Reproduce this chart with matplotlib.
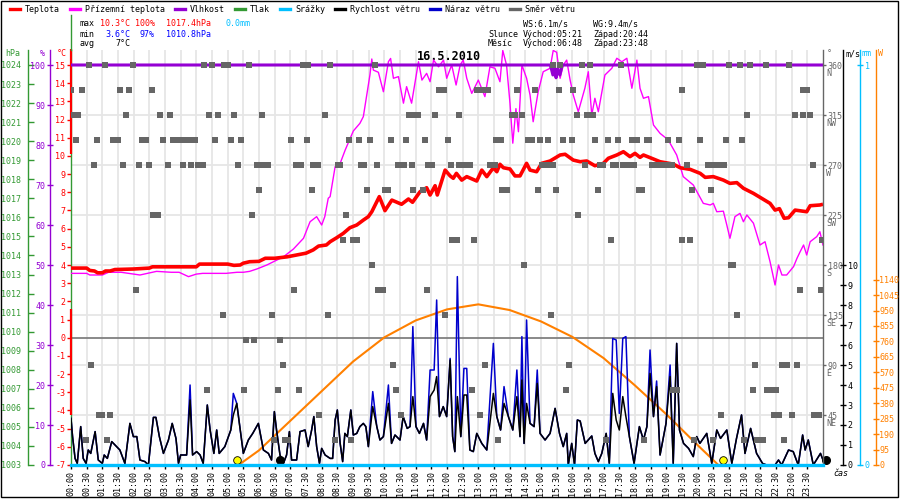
import numpy as np
import matplotlib
matplotlib.use("Agg")
import matplotlib.pyplot as plt
from matplotlib.lines import Line2D
from matplotlib.patches import Rectangle

# =========================
# Data (16.5.2010, time in hours)
# =========================
temp_t = [0.0, 0.5, 0.6, 0.75, 0.85, 1.0, 1.1, 1.25, 1.4, 2.0,
          2.5, 2.6, 3.0, 3.5, 4.0, 4.1, 4.5, 5.0, 5.2, 5.4,
          5.5, 5.7, 6.0, 6.2, 6.5, 6.9, 7.2, 7.5, 7.73, 7.9,
          8.15, 8.27, 8.48, 8.69, 8.9, 9.12, 9.33, 9.49, 9.6, 9.84,
          10.02, 10.24, 10.55, 10.77, 10.9, 11.14, 11.35, 11.46, 11.62, 11.69,
          11.94, 12.1, 12.2, 12.3, 12.47, 12.63, 12.95, 13.11, 13.27, 13.48,
          13.59, 13.69, 13.8, 14.01, 14.17, 14.33, 14.54, 14.65, 14.86, 15.02,
          15.29, 15.61, 15.77, 16.03, 16.25, 16.46, 16.72, 16.99, 17.15, 17.42,
          17.63, 17.84, 18.0, 18.16, 18.27, 18.53, 18.8, 19.22, 19.44, 19.76,
          20.08, 20.24, 20.5, 20.82, 21.03, 21.25, 21.46, 21.78, 22.04, 22.31,
          22.47, 22.61, 22.76, 22.9, 23.11, 23.48, 23.59, 23.9, 24.0]
temp_v = [3.83, 3.83, 3.7, 3.67, 3.57, 3.57, 3.67, 3.67, 3.75, 3.78,
          3.83, 3.9, 3.9, 3.9, 3.9, 4.05, 4.05, 4.05, 3.98, 4.0,
          4.1, 4.18, 4.2, 4.37, 4.37, 4.45, 4.55, 4.65, 4.83, 5.04,
          5.1, 5.28, 5.5, 5.74, 6.05, 6.2, 6.47, 6.66, 6.93, 7.76,
          6.99, 7.57, 7.34, 7.63, 7.45, 8.03, 8.25, 7.85, 8.36, 7.85,
          9.22, 8.9, 8.77, 9.04, 8.67, 8.86, 8.62, 9.22, 8.86, 9.35,
          9.13, 9.54, 9.35, 9.28, 8.9, 8.9, 9.59, 9.22, 9.13, 9.59,
          9.72, 10.05, 10.09, 9.77, 9.68, 9.72, 9.46, 9.59, 9.87, 10.05,
          10.23, 9.96, 10.14, 9.92, 10.05, 9.87, 9.68, 9.55, 9.35, 9.26,
          9.04, 8.82, 8.86, 8.67, 8.49, 8.53, 8.22, 7.94, 7.67, 7.39,
          7.02, 7.1, 6.57, 6.6, 7.02, 6.93, 7.26, 7.3, 7.34]

ground_t = [0.0, 0.5, 0.6, 1.0, 1.2, 1.6, 2.2, 2.73, 3.2, 3.45,
            3.75, 4.0, 4.2, 4.95, 5.3, 5.5, 5.7, 5.93, 6.25, 6.46,
            6.78, 7.1, 7.42, 7.63, 7.84, 8.0, 8.1, 8.21, 8.27, 8.43,
            8.59, 8.75, 9.01, 9.22, 9.33, 9.44, 9.54, 9.6, 9.65, 9.81,
            9.97, 10.13, 10.2, 10.29, 10.45, 10.61, 10.71, 10.87, 11.09, 11.2,
            11.35, 11.46, 11.57, 11.73, 11.89, 11.99, 12.15, 12.29, 12.42, 12.52,
            12.63, 12.79, 13.0, 13.21, 13.37, 13.53, 13.69, 13.78, 13.9, 14.01,
            14.1, 14.2, 14.28, 14.39, 14.54, 14.65, 14.75, 14.91, 15.07, 15.29,
            15.39, 15.5, 15.61, 15.71, 15.82, 15.93, 16.03, 16.19, 16.25, 16.4,
            16.51, 16.62, 16.72, 16.83, 17.04, 17.26, 17.42, 17.58, 17.74, 17.9,
            18.06, 18.16, 18.27, 18.43, 18.59, 18.8, 19.06, 19.33, 19.54, 19.86,
            20.18, 20.4, 20.5, 20.61, 20.82, 20.93, 21.03, 21.19, 21.35, 21.46,
            21.57, 21.78, 21.99, 22.15, 22.31, 22.47, 22.58, 22.69, 22.84, 23.06,
            23.17, 23.27, 23.38, 23.48, 23.59, 23.8, 23.9, 24.0]
ground_v = [3.54, 3.54, 3.45, 3.45, 3.6, 3.6, 3.45, 3.65, 3.6, 3.6,
            3.36, 3.5, 3.54, 3.54, 3.6, 3.6, 3.65, 3.78, 4.0, 4.18,
            4.45, 4.88, 5.47, 6.38, 6.66, 6.2, 6.66, 7.67, 7.76, 9.41,
            9.59, 10.32, 11.37, 11.79, 12.16, 13.35, 14.45, 15.33, 14.72, 14.6,
            13.53, 15.18, 15.36, 14.27, 14.36, 12.9, 13.81, 12.9, 15.18, 14.17,
            14.54, 14.08, 15.27, 14.9, 15.27, 14.27, 15.0, 13.9, 15.0, 15.27,
            14.27, 13.44, 14.17, 13.26, 14.9, 14.82, 14.08, 15.8, 15.0, 12.9,
            10.7, 12.6, 11.33, 15.0, 14.27, 13.35, 11.88, 13.53, 14.63, 14.82,
            15.8, 15.7, 14.27, 15.0, 15.27, 14.17, 13.35, 12.43, 12.8, 13.72,
            14.63, 12.25, 13.17, 12.43, 14.45, 14.82, 15.37, 15.18, 15.37, 13.72,
            15.27, 13.72, 13.17, 13.26, 11.7, 11.24, 10.88, 10.05, 8.86, 8.4,
            7.39, 7.3, 7.39, 6.93, 6.96, 6.2, 5.47, 6.66, 6.84, 6.38,
            6.75, 6.3, 5.1, 5.28, 4.18, 2.9, 4.0, 3.45, 3.45, 3.91,
            4.37, 4.73, 5.1, 4.55, 5.28, 5.56, 5.83, 5.1]

hum_t = [0.0, 15.3, 15.38, 15.43, 15.48, 15.53, 15.6, 15.68, 24.0]
hum_v = [100, 100, 97.5, 99.5, 96.8, 99.0, 97.5, 100, 100]

rain_t = [0.0, 24.0]
rain_v = [0.0, 0.0]

wind_t = [0.0, 0.05, 0.13, 0.2, 0.31, 0.39, 0.48, 0.55, 0.63, 0.77,
          0.87, 1.0, 1.06, 1.16, 1.3, 1.56, 1.72, 1.88, 1.99, 2.1,
          2.2, 2.36, 2.47, 2.63, 2.71, 2.82, 2.95, 3.11, 3.23, 3.35,
          3.43, 3.5, 3.69, 3.8, 3.88, 4.01, 4.12, 4.22, 4.35, 4.44,
          4.56, 4.65, 4.73, 4.91, 5.1, 5.18, 5.29, 5.41, 5.5, 5.66,
          5.8, 5.98, 6.14, 6.3, 6.4, 6.49, 6.56, 6.67, 6.78, 6.88,
          6.97, 7.04, 7.2, 7.31, 7.47, 7.57, 7.68, 7.75, 7.84, 7.93,
          8.0, 8.11, 8.27,
          8.35, 8.43, 8.5, 8.59, 8.67, 8.74, 8.82, 8.93, 9.01, 9.12,
          9.22, 9.33, 9.41, 9.49, 9.63, 9.76, 9.86, 9.97, 10.13, 10.23,
          10.34, 10.5, 10.6, 10.73, 10.82, 10.91, 11.01, 11.12, 11.25, 11.35,
          11.46, 11.59, 11.67, 11.76, 11.88, 11.99, 12.1, 12.18, 12.25, 12.33,
          12.44, 12.54, 12.63, 12.73, 12.84, 12.95, 13.11, 13.27, 13.48, 13.59,
          13.71, 13.82, 13.96, 14.1, 14.23, 14.33, 14.39, 14.46, 14.54, 14.65,
          14.78, 14.88, 14.97, 15.13, 15.29, 15.45, 15.59, 15.71, 15.82, 15.87,
          15.98, 16.07, 16.16, 16.25,
          16.41, 16.62, 16.72, 16.83, 16.94, 17.08, 17.18, 17.29, 17.4, 17.5,
          17.61, 17.71, 17.82, 17.97, 18.14, 18.27, 18.38, 18.48, 18.59, 18.69,
          18.8, 18.99, 19.12, 19.22, 19.33, 19.42, 19.55, 19.71, 19.86, 19.97,
          20.07, 20.29, 20.45, 20.61, 20.73, 20.93, 21.09, 21.24, 21.4, 21.51,
          21.69, 21.88, 22.07, 22.2, 22.47, 22.58, 22.68, 22.9, 23.05, 23.21,
          23.35, 23.43, 23.53, 23.69, 23.92, 24.0]
wind_v = [2.33, 1.42, 0.33, 0.08, 1.92, 0.33, 0.08, 0.75, 0.58, 1.67,
          0.25, 0.08, 0.5, 0.33, 1.17, 0.75, 0.08, 2.08, 1.42, 1.42,
          0.25, 0.17, 0.0, 2.38, 2.38, 1.42, 0.58, 1.25, 2.08, 1.33,
          0.08, 0.5, 0.5, 3.25, 0.5, 0.67, 0.5, 0.08, 3.0, 1.75,
          0.58, 1.75, 0.58, 0.92, 1.75, 2.5, 3.08, 1.67, 0.58, 1.25,
          1.58, 2.08, 0.75, 0.58, 0.25, 2.67, 1.75, 0.5, 0.08, 0.5,
          1.67, 0.25, 0.25, 1.67, 1.75, 0.92, 1.75, 2.42, 0.92, 0.08,
          0.83, 0.5, 0.33,
          0.33, 2.25, 2.75, 1.08, 0.17, 1.58, 1.42, 2.75, 1.5, 1.58,
          1.92, 2.08, 1.92, 0.92, 2.92, 1.92, 1.25, 1.42, 3.08, 1.08,
          1.5, 1.25, 2.42, 1.83, 1.92, 3.42, 1.92, 1.58, 2.08, 1.25,
          3.42, 3.75, 4.42, 2.42, 2.92, 2.42, 5.25, 1.42, 0.67, 3.42,
          1.42, 3.5, 3.5, 0.75, 0.67, 1.58, 1.08, 0.75, 3.58, 2.42,
          1.75, 3.08, 2.42, 1.75, 3.42, 1.42, 4.25, 1.08, 3.08, 2.08,
          1.92, 4.08, 1.58, 1.25, 1.58, 2.83, 1.58, 0.92, 1.58, 0.0,
          1.08, 0.0, 2.25, 2.2,
          1.08, 1.45, 0.58, 0.17, 0.58, 1.58, 0.08, 3.58, 2.25, 1.75,
          3.42, 2.42, 1.42, 0.08, 1.92, 1.25, 1.92, 4.58, 2.42, 3.92,
          0.5, 2.08, 4.42, 0.08, 6.08, 1.75, 1.08, 0.83, 0.42, 1.42,
          1.08, 1.58, 0.08, 1.75, 1.33, 1.75, 0.08, 1.33, 2.5, 0.58,
          1.83, 0.58, 0.08, 0.0, 0.0, 0.25, 0.0, 0.75, 0.67, 0.0,
          1.5, 0.75, 1.25, 0.0, 0.58, 0.25]

# gusts follow the wind speed except at these moments
gust_peak_t = [3.8, 5.18, 9.63, 10.13, 10.91, 11.46, 11.59, 11.67, 12.1, 12.33,
               12.54, 12.63, 13.48, 13.82, 14.23, 14.39, 14.54, 14.88, 17.29, 17.4,
               17.5, 17.61, 17.71, 18.48, 18.69, 19.12]
gust_peak_v = [4.0, 3.58, 3.67, 4.0, 6.92, 4.75, 4.75, 8.25, 5.33, 9.42,
               4.83, 4.83, 6.08, 3.92, 4.75, 6.42, 7.25, 4.75, 6.33, 6.25,
               2.58, 6.33, 6.42, 5.75, 4.2, 5.0]

solar_t = [5.35, 6.0, 7.0, 8.0, 9.0, 10.0, 11.0, 12.0, 13.0, 14.0,
           15.0, 16.0, 17.0, 18.0, 19.0, 20.0, 20.66]
solar_v = [0, 90, 272, 454, 636, 785, 889, 957, 988, 953,
           883, 788, 657, 489, 312, 122, 0]

dir_levels = [360, 337.5, 315, 292.5, 270, 247.5, 225, 202.5,
              180, 157.5, 135, 112.5, 90, 67.5, 45, 22.5]
dir_times = [
    [0.56, 1.09, 1.99, 4.24, 4.51, 4.89, 5.0, 5.68, 7.41, 7.57, 8.27, 9.7,
     15.37, 15.61, 16.3, 16.56, 17.54, 19.99, 20.18, 21.0, 21.35, 21.67, 22.17, 22.92],
    [0.0, 0.34, 1.56, 1.86, 2.58, 11.76, 11.89, 12.95, 13.05, 13.14, 13.3, 14.22,
     14.81, 15.56, 16.02, 19.5, 23.37, 23.48],
    [0.07, 0.23, 1.76, 2.84, 3.16, 4.41, 4.7, 5.2, 6.09, 8.11, 10.79, 10.98, 11.07,
     11.62, 12.38, 14.07, 14.17, 14.38, 16.14, 16.46, 16.65, 21.57, 23.11, 23.35, 23.58],
    [0.16, 0.84, 1.35, 1.49, 2.26, 2.39, 2.95, 3.25, 3.37, 3.51, 3.67, 3.78, 3.96,
     4.6, 5.11, 5.43, 7.01, 7.52, 8.87, 9.19, 9.54, 10.21, 10.69, 11.3, 12.03, 13.56,
     13.72, 14.58, 14.71, 14.97, 15.23, 15.71, 15.98, 16.72, 17.13, 17.47, 17.89,
     18.07, 18.38, 18.45, 19.06, 19.4, 20.07, 20.9, 21.42],
    [0.73, 1.65, 2.17, 2.49, 3.09, 3.56, 3.82, 4.05, 4.22, 5.32, 5.93, 6.13, 6.29,
     7.18, 7.33, 7.72, 7.88, 8.51, 8.59, 9.26, 9.35, 9.76, 10.45, 10.63, 10.87, 11.4,
     11.51, 12.13, 12.38, 12.57, 12.73, 13.37, 13.53, 15.02, 15.18, 15.37, 16.4,
     16.88, 16.99, 17.3, 17.38, 17.62, 17.75, 17.87, 17.97, 18.53, 18.62, 18.69,
     18.78, 18.86, 18.95, 19.03, 19.12, 19.18, 19.65, 20.32, 20.52, 20.65, 20.84, 23.67],
    [6.0, 7.68, 9.44, 10.02, 10.13, 10.92, 11.22, 13.76, 13.9, 14.9, 15.48, 16.83,
     18.13, 18.22, 19.83, 20.43],
    [2.63, 2.78, 5.77, 8.77, 16.19],
    [8.67, 8.99, 9.14, 12.16, 12.32, 12.87, 17.23, 19.49, 19.75, 23.98],
    [9.6, 14.46, 21.05, 21.12],
    [2.06, 7.12, 9.81, 9.97, 11.35, 23.27, 23.94],
    [4.84, 6.42, 8.19, 11.94, 15.31, 21.25],
    [5.59, 5.84, 6.67],
    [0.64, 6.76, 10.27, 13.21, 15.88, 21.83, 22.69, 22.84, 23.17],
    [4.33, 5.52, 6.62, 7.28, 10.37, 12.79, 15.8, 19.2, 19.35, 21.76, 22.2, 22.31, 22.5],
    [0.9, 0.99, 1.24, 7.92, 10.52, 13.05, 20.74, 22.45, 22.6, 23.01, 23.72, 23.87],
    [0.47, 1.14, 6.49, 6.83, 6.93, 8.43, 8.93, 13.62, 17.07, 18.3, 19.89, 20.48,
     21.48, 21.88, 22.09, 22.76],
]

sun_t = [5.3, 20.82]
moon_t = [6.66, 24.09]
marker_v = [0.23, 0.23]

# =========================
# Ticks and labels
# =========================
time_ticks = [h / 2 for h in range(48)]
time_labels = [f"{h:02d}:{m:02d}" for h in range(24) for m in (0, 30)]
temp_ticks = list(range(-7, 16))
hum_ticks = list(range(0, 101, 10))
press_ticks = list(range(1003, 1025))
dir_ticks = [45, 90, 135, 180, 225, 270, 315, 360]
dir_names = ["NE", "E", "SE", "S", "SW", "W", "NW", "N"]
wind_ticks = list(range(0, 11))
rain_ticks = [0, 1]
solar_ticks = list(range(0, 1141, 95))

legend_items = ["Teplota", "Přízemní teplota", "Vlhkost", "Tlak", "Srážky",
                "Rychlost větru", "Náraz větru", "Směr větru"]

# =========================
# Style
# =========================
plt.rcParams['font.family'] = ['DejaVu Sans Mono']
FS = 6
C_T, C_G, C_H, C_P = "#ff0000", "#ff00ff", "#9400d3", "#339933"
C_R, C_WS, C_WG, C_D, C_S = "#00bfff", "#000000", "#0000cc", "#666666", "#ff8000"
GRID = "#e6e6e6"
legend_colors = [C_T, C_G, C_H, C_P, C_R, C_WS, C_WG, C_D]
legend_x = [25, 85, 190, 250, 295, 350, 445, 525]

W, H = 900, 500
L, R, TOP, BOT = 71, 823, 50, 465
UNIT = 400  # px from bottom line to the 15 °C / 100 % / 360° line


def lim(lo, hi):
    return lo, lo + (hi - lo) * (BOT - TOP) / UNIT


def fx(x):
    return x / W


def fy(y):
    return 1 - y / H


fig = plt.figure(figsize=(9, 5), dpi=100)
ax = fig.add_axes([fx(L), fy(BOT), (R - L) / W, (BOT - TOP) / H])
ax.set_xlim(0, 24)
ax.set_ylim(*lim(-7, 15))
ax.patch.set_visible(False)
ax.set_zorder(1)


def twin(z, ylim):
    a = ax.twinx()
    a.set_zorder(z)
    a.patch.set_visible(False)
    a.set_ylim(*ylim)
    for s in a.spines.values():
        s.set_visible(False)
    a.tick_params(axis='y', left=False, right=False, labelleft=False, labelright=False)
    return a


def side_axis(a, side, xpx, color, ticks, labels=None, direction='inout', length=4, pad=1.0):
    sp = a.spines[side]
    sp.set_visible(True)
    sp.set_position(('axes', (xpx - L) / (R - L)))
    sp.set_color(color)
    sp.set_linewidth(1.0)
    a.yaxis.set_ticks_position(side)
    a.set_yticks(ticks, labels if labels is not None else [str(t) for t in ticks])
    on_left = side == 'left'
    a.tick_params(axis='y', left=on_left, labelleft=on_left, right=not on_left,
                  labelright=not on_left, colors=color, direction=direction,
                  length=length, width=1, pad=pad, labelsize=FS)


# grid layer (direction scale)
ax_grid = twin(0, lim(0, 360))
for t in time_ticks[1:]:
    ax_grid.axvline(t, color=GRID, lw=1.3)
for d in dir_ticks[:-1]:
    ax_grid.axhline(d, color=GRID, lw=1.3)

# main temperature axis: ticks, 0 °C line
for s in ['top', 'right', 'bottom']:
    ax.spines[s].set_visible(False)
ax.spines['left'].set_color(C_P)
ax.spines['left'].set_linewidth(1.0)
ax.axhline(0, color="#808080", lw=1.3, zorder=1)
ax.vlines(0, 10.1, 15.9, colors=C_T, lw=1.6, zorder=3, clip_on=False)
ax.vlines(0, -4.25, 1.6, colors=C_T, lw=1.6, zorder=3, clip_on=False)
ax.set_yticks(temp_ticks, [str(t) for t in temp_ticks])
ax.tick_params(axis='y', colors=C_T, direction='out', length=3, width=1, pad=1.2, labelsize=FS)
ax.set_xticks(time_ticks, time_labels, rotation=90)
ax.tick_params(axis='x', colors='black', direction='out', length=3, width=1, pad=1.5, labelsize=FS)

# pressure axis (no data drawn)
ax_p = twin(1, lim(1003, 1024))
side_axis(ax_p, 'left', 28, C_P, press_ticks, direction='in', length=4, pad=5)

# solar radiation
ax_s = twin(2, lim(0, 2460))
ax_s.plot(solar_t, solar_v, color=C_S, lw=1.5)
side_axis(ax_s, 'right', 876, C_S, solar_ticks, pad=0.5)

# wind speed and gusts
ax_w = twin(3, lim(0, 20))
wind_arr = np.array(wind_v)
gust_arr = wind_arr.copy()
for t, v in zip(gust_peak_t, gust_peak_v):
    gust_arr[np.argmin(np.abs(np.array(wind_t) - t))] = v
ax_w.plot(wind_t, gust_arr, color=C_WG, lw=1.1)
ax_w.plot(wind_t, wind_arr, color=C_WS, lw=1.1)
ax_w.plot(sun_t, marker_v, 'o', color='#ffff00', mec='black', mew=0.6, ms=5.5, zorder=5, clip_on=False)
ax_w.plot(moon_t, marker_v, 'o', color='black', ms=5.5, zorder=5, clip_on=False)
side_axis(ax_w, 'right', 843, C_WS, wind_ticks, length=5)

# temperatures
ax_t = twin(4, lim(-7, 15))
ax_t.plot(ground_t, ground_v, color=C_G, lw=1.0)
ax_t.plot(temp_t, temp_v, color=C_T, lw=2.6, solid_capstyle='butt')

# humidity
ax_h = twin(5, lim(0, 100))
ax_h.plot(hum_t, hum_v, color=C_H, lw=2.2)
side_axis(ax_h, 'left', 50, C_H, hum_ticks, pad=1.5)

# wind direction
ax_d = twin(6, lim(0, 360))
for deg, times in zip(dir_levels, dir_times):
    ax_d.plot(times, [deg] * len(times), 's', color=C_D, ms=3.7, mew=0)
side_axis(ax_d, 'right', R, C_D, dir_ticks, direction='out', length=2.5, pad=0.8)
for deg, name in zip(dir_ticks, dir_names):
    ax_d.annotate(name, xy=(1, deg), xycoords=('axes fraction', 'data'),
                  xytext=(2.4, -3.2), textcoords='offset points',
                  ha='left', va='top', fontsize=FS, color=C_D)

# rain
ax_r = twin(7, lim(0, 1))
ax_r.plot(rain_t, rain_v, color=C_R, lw=2.4, clip_on=False)
side_axis(ax_r, 'right', 860, C_R, rain_ticks, length=5)

# =========================
# Header texts
# =========================
for label, col, x in zip(legend_items, legend_colors, legend_x):
    fig.add_artist(Line2D([fx(x - 15), fx(x - 5)], [fy(9), fy(9)], color=col, lw=2.4))
    fig.text(fx(x), fy(9), label, va='center', fontsize=FS)

rows = [
    (24, [("max", 'black', 80), ("10.3°C", C_T, 100), ("100%", C_T, 135),
          ("1017.4hPa", C_T, 166), ("0.0mm", C_R, 226),
          ("WS:6.1m/s", 'black', 523), ("WG:9.4m/s", 'black', 593)]),
    (34, [("min", 'black', 80), ("3.6°C", '#0000ff', 105), ("97%", '#0000ff', 140),
          ("1010.8hPa", '#0000ff', 166), ("Slunce", 'black', 488),
          ("Východ:05:21", 'black', 523), ("Západ:20:44", 'black', 593)]),
    (44, [("avg", 'black', 80), ("7°C", 'black', 115), ("Měsíc", 'black', 488),
          ("Východ:06:48", 'black', 523), ("Západ:23:48", 'black', 593)]),
]
for y, items in rows:
    for txt, col, x in items:
        fig.text(fx(x), fy(y), txt, va='center', fontsize=FS, color=col)

fig.text(fx(449), fy(56.5), "16.5.2010", ha='center', va='center', fontsize=8.5, fontweight='bold')

for txt, col, x in [("hPa", C_P, 5), ("%", C_H, 40), ("°C", C_T, 57), ("°", C_D, 827),
                    ("m/s", C_WS, 846), ("mm", C_R, 862), ("W", C_S, 878)]:
    fig.text(fx(x), fy(54), txt, va='center', fontsize=FS, color=col)
fig.text(fx(833), fy(474), "čas", va='center', fontsize=FS, style='italic')

fig.add_artist(Line2D([fx(L), fx(L)], [fy(TOP), fy(15)], color=C_P, lw=1.0))
fig.add_artist(Rectangle((fx(1), fy(497)), fx(897), 496 / H, fill=False, ec='black', lw=1.0,
                         transform=fig.transFigure))

fig.savefig("out.png", dpi=100)
plt.close(fig)
